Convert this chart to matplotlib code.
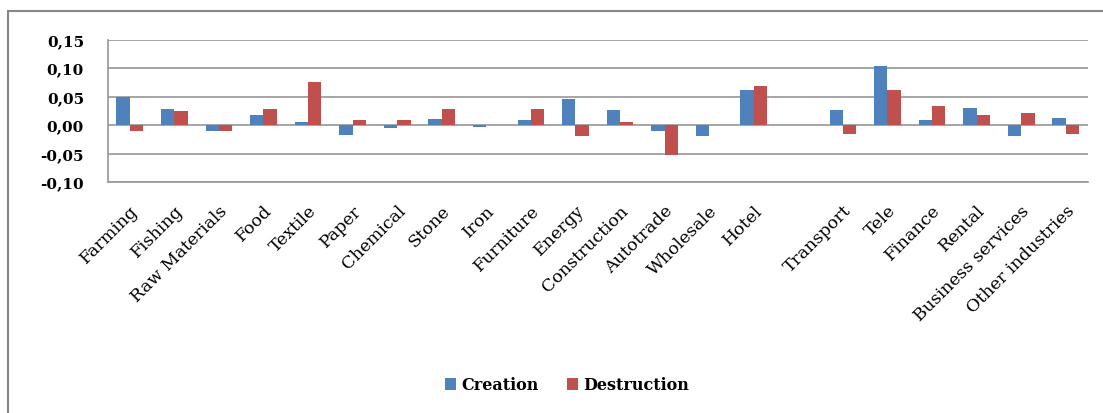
import numpy as np
import matplotlib.pyplot as plt
from matplotlib.patches import Rectangle

industries = ['Farming', 'Fishing', 'Raw Materials', 'Food', 'Textile', 'Paper',
              'Chemical', 'Stone', 'Iron', 'Furniture', 'Energy', 'Construction',
              'Autotrade', 'Wholesale', 'Hotel', '', 'Transport', 'Tele', 'Finance',
              'Rental', 'Business services', 'Other industries']
creation = [0.050, 0.028, -0.010, 0.017, 0.005, -0.017,
            -0.005, 0.010, -0.003, 0.008, 0.046, 0.026,
            -0.010, -0.019, 0.062, 0.0, 0.026, 0.103, 0.008,
            0.030, -0.019, 0.012]
destruction = [-0.010, 0.024, -0.010, 0.028, 0.076, 0.008,
               0.008, 0.028, 0.0, 0.028, -0.019, 0.005,
               -0.053, 0.0, 0.069, 0.0, -0.015, 0.062, 0.033,
               0.017, 0.021, -0.015]
yticks = [-0.10, -0.05, 0.00, 0.05, 0.10, 0.15]

W, H = 1103, 414
fig = plt.figure(figsize=(W / 100, H / 100), dpi=100)
ax = fig.add_axes([107.5 / W, 1 - 183 / H, (1088 - 107.5) / W, (183 - 40.5) / H])

# outer chart frame (right and bottom edges fall outside the image)
fig.patches.append(Rectangle((8 / W, -0.1), 1.2, 1 - 12 / H + 0.1, transform=fig.transFigure,
                             fill=False, edgecolor='#868686', linewidth=1.5))

x = np.arange(len(industries))
bw = 0.3
ax.bar(x - bw / 2, creation, bw, color='#4F81BD', linewidth=0, label='Creation', zorder=3)
ax.bar(x + bw / 2, destruction, bw, color='#C0504D', linewidth=0, label='Destruction', zorder=3)

ax.set_xlim(-0.5, len(industries) - 0.5)
ax.set_ylim(-0.10, 0.15)
ax.set_yticks(yticks)
ax.set_yticklabels([('%.2f' % v).replace('.', ',') for v in yticks],
                   fontsize=11, fontweight='bold', family='DejaVu Serif')
ax.yaxis.grid(True, color='#969696', linewidth=1.2, zorder=0)
ax.tick_params(axis='y', length=0, pad=17)
ax.tick_params(axis='x', length=0, pad=14)
ax.set_xticks(x)
ax.set_xticklabels(industries, rotation=45, ha='right', rotation_mode='anchor',
                   fontsize=12.5, family='DejaVu Serif')
for s in ax.spines.values():
    s.set_color('#969696')
    s.set_linewidth(1.2)
ax.spines['right'].set_visible(False)
ax.spines['top'].set_visible(False)

fig.legend(loc='center', bbox_to_anchor=(567 / W, 1 - 386 / H), ncol=2, frameon=False,
           handlelength=0.7, handleheight=0.7, handletextpad=0.3, columnspacing=1.8,
           prop={'family': 'DejaVu Serif', 'weight': 'bold', 'size': 11.5})

fig.savefig('out.png', dpi=100)
